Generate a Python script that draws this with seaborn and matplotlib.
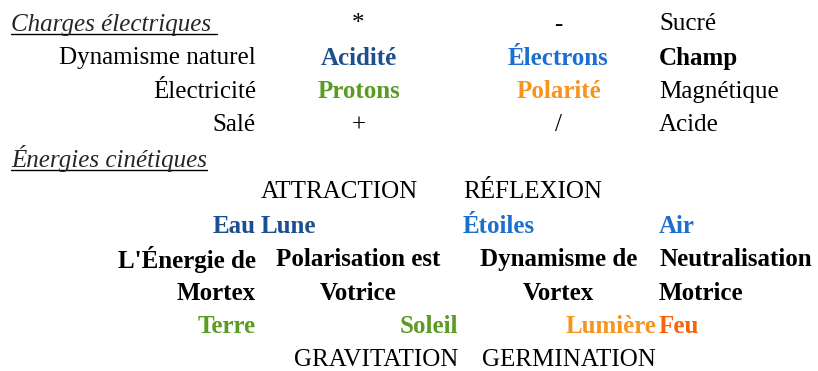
import seaborn as sns
import matplotlib.pyplot as plt

# section titles
section_titles = ["Charges électriques ", "Énergies cinétiques"]

# upper table: row labels and three value columns
charge_labels = ["", "Dynamisme naturel", "Électricité", "Salé"]
charge_col2 = ["*", "Acidité", "Protons", "+"]
charge_col3 = ["-", "Électrons", "Polarité", "/"]
charge_col4 = ["Sucré", "Champ", "Magnétique", "Acide"]

# lower table, one list per row (4 columns)
energy_rows = [
    ["", "ATTRACTION", "RÉFLEXION", ""],
    ["Eau", "Lune", "Étoiles", "Air"],
    ["L'Énergie de", "Polarisation est", "Dynamisme de", "Neutralisation"],
    ["Mortex", "Votrice", "Vortex", "Motrice"],
    ["Terre", "Soleil", "Lumière", "Feu"],
    ["", "GRAVITATION", "GERMINATION", ""],
]

# text colours (everything else black)
dark_blue = "#1b4f8f"
blue = "#1a6fd1"
green = "#5a9b22"
orange = "#f7941d"
red_orange = "#f5640a"
colors = {
    "Acidité": dark_blue, "Électrons": blue, "Protons": green, "Polarité": orange,
    "Eau": dark_blue, "Lune": dark_blue, "Étoiles": blue, "Air": blue,
    "Terre": green, "Soleil": green, "Lumière": orange, "Feu": red_orange,
}
bold_words = set(colors) | {"Champ", "L'Énergie de", "Polarisation est", "Dynamisme de",
                            "Neutralisation", "Mortex", "Votrice", "Vortex", "Motrice"}

sns.set_theme(style="white")
plt.rcParams["font.family"] = ["Liberation Serif", "DejaVu Serif"]

fig = plt.figure(figsize=(8.18, 3.71), dpi=100)
ax = fig.add_axes([0, 0, 1, 1])
ax.set_xlim(0, 818)
ax.set_ylim(371, 0)
ax.axis("off")

fs = 18
row_y = lambda i: 22 + 33.6 * i
# column anchors: col1 right edge, col2/col3 span, col4 left edge
col_span = [(0, 256), (259, 458), (461, 656), (657, 818)]


def put(text, row, col, align):
    if not text:
        return None
    lo, hi = col_span[col]
    x = {"right": hi, "left": lo + 2, "center": (lo + hi) / 2}[align]
    return ax.text(x, row_y(row), text, ha=align, va="center_baseline", fontsize=fs,
                   color=colors.get(text, "black"),
                   fontweight="bold" if text in bold_words else "normal")


titles = []
titles.append(ax.text(11, row_y(0), section_titles[0], ha="left", va="center_baseline",
                      fontsize=fs, style="italic"))
for i in range(4):
    put(charge_labels[i], i, 0, "right")
    put(charge_col2[i], i, 1, "center")
    put(charge_col3[i], i, 2, "center")
    put(charge_col4[i], i, 3, "left")

titles.append(ax.text(11, row_y(4), section_titles[1], ha="left", va="center_baseline",
                      fontsize=fs, style="italic"))

energy_align = [
    ["right", "left", "left", "left"],
    ["right", "left", "left", "left"],
    ["right", "center", "center", "left"],
    ["right", "center", "center", "left"],
    ["right", "right", "right", "left"],
    ["right", "right", "right", "left"],
]
for r, row in enumerate(energy_rows):
    for c, word in enumerate(row):
        put(word, r + 5, c, energy_align[r][c])

# underline the section titles
fig.canvas.draw()
renderer = fig.canvas.get_renderer()
inv = ax.transData.inverted()
for t in titles:
    bb = t.get_window_extent(renderer)
    (x0, y0), (x1, y1) = inv.transform([[bb.x0, bb.y0], [bb.x1, bb.y1]])
    ax.plot([x0, x1], [y0 - 2, y0 - 2], color="black", lw=1)

fig.savefig("out.png", dpi=100)
